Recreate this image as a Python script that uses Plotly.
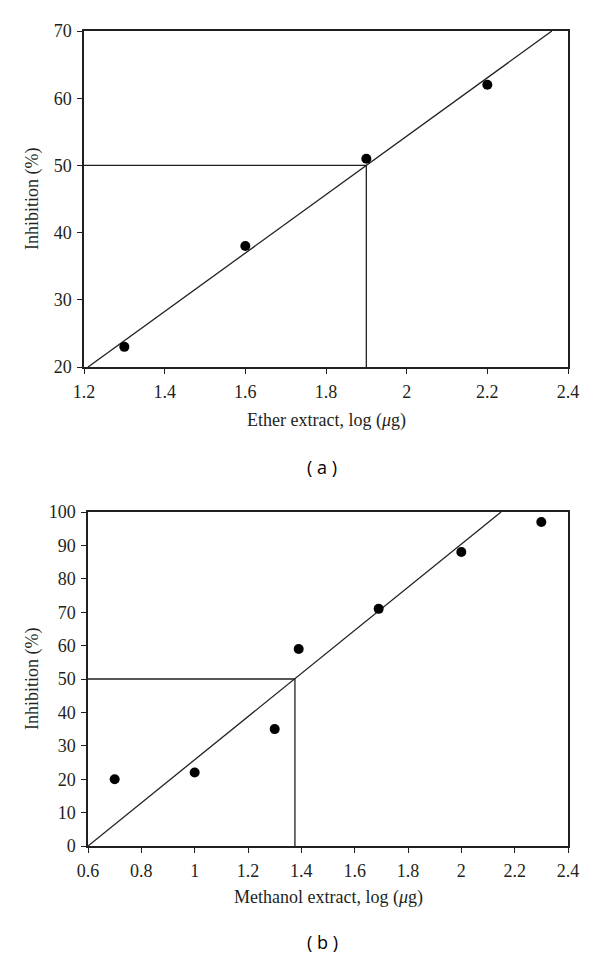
import plotly.graph_objects as go

# ---- Panel (a): ether extract ----
ether_x = [1.3, 1.6, 1.9, 2.2]
ether_y = [23, 38, 51, 62]
ether_fit_x = [1.21, 2.36]
ether_fit_y = [20, 70]
ether_ic50_x = 1.9
ether_ic50_y = 50

# ---- Panel (b): methanol extract ----
meth_x = [0.7, 1.0, 1.3, 1.39, 1.69, 2.0, 2.3]
meth_y = [20, 22, 35, 59, 71, 88, 97]
meth_fit_x = [0.6, 2.149]
meth_fit_y = [0, 100]
meth_ic50_x = 1.376
meth_ic50_y = 50

ether_xticks = [1.2, 1.4, 1.6, 1.8, 2.0, 2.2, 2.4]
ether_xlabels = ["1.2", "1.4", "1.6", "1.8", "2", "2.2", "2.4"]
ether_yticks = [20, 30, 40, 50, 60, 70]
meth_xticks = [0.6, 0.8, 1.0, 1.2, 1.4, 1.6, 1.8, 2.0, 2.2, 2.4]
meth_xlabels = ["0.6", "0.8", "1", "1.2", "1.4", "1.6", "1.8", "2", "2.2", "2.4"]
meth_yticks = [0, 10, 20, 30, 40, 50, 60, 70, 80, 90, 100]

W, H = 600, 958
INK = "#231f20"
SERIF = "Liberation Serif, Times New Roman, serif"
SANS = "Open Sans, Noto Sans, sans-serif"

def py(p):
    return 1 - p / H

def px(p):
    return p / W

fig = go.Figure()

line_style = dict(color=INK, width=1.3)

# Panel a
fig.add_trace(go.Scatter(x=[ether_xticks[0], ether_ic50_x, ether_ic50_x],
                         y=[ether_ic50_y, ether_ic50_y, ether_yticks[0]],
                         mode="lines", line=line_style, xaxis="x", yaxis="y",
                         showlegend=False, hoverinfo="skip"))
fig.add_trace(go.Scatter(x=ether_fit_x, y=ether_fit_y, mode="lines", line=line_style,
                         xaxis="x", yaxis="y", showlegend=False))
fig.add_trace(go.Scatter(x=ether_x, y=ether_y, mode="markers",
                         marker=dict(color="black", size=10), xaxis="x", yaxis="y",
                         showlegend=False))

# Panel b
fig.add_trace(go.Scatter(x=[meth_xticks[0], meth_ic50_x, meth_ic50_x],
                         y=[meth_ic50_y, meth_ic50_y, meth_yticks[0]],
                         mode="lines", line=line_style, xaxis="x2", yaxis="y2",
                         showlegend=False, hoverinfo="skip"))
fig.add_trace(go.Scatter(x=meth_fit_x, y=meth_fit_y, mode="lines", line=line_style,
                         xaxis="x2", yaxis="y2", showlegend=False))
fig.add_trace(go.Scatter(x=meth_x, y=meth_y, mode="markers",
                         marker=dict(color="black", size=10), xaxis="x2", yaxis="y2",
                         showlegend=False))

axis_common = dict(showgrid=False, zeroline=False, showline=True, linecolor=INK,
                   linewidth=1.5, mirror=True, ticks="outside", ticklen=5,
                   tickcolor=INK, tickwidth=1.3, automargin=False,
                   tickfont=dict(family=SERIF, size=18, color=INK))

fig.update_layout(
    width=W, height=H,
    margin=dict(l=0, r=0, t=0, b=0, autoexpand=False),
    paper_bgcolor="white", plot_bgcolor="white",
    xaxis=dict(axis_common, domain=[px(84), px(568)], range=[1.2, 2.4],
               tickvals=ether_xticks, ticktext=ether_xlabels, anchor="y",
               ticklabelstandoff=3),
    yaxis=dict(axis_common, domain=[py(367), py(31)], range=[20, 70],
               tickvals=ether_yticks, anchor="x", ticklabelstandoff=2),
    xaxis2=dict(axis_common, domain=[px(88), px(568)], range=[0.6, 2.4],
                tickvals=meth_xticks, ticktext=meth_xlabels, anchor="y2",
                ticklabelstandoff=3),
    yaxis2=dict(axis_common, domain=[py(846), py(512)], range=[0, 100],
                tickvals=meth_yticks, anchor="x2", ticklabelstandoff=2),
)

def ann(text, x, y, font, angle=0):
    fig.add_annotation(text=text, x=px(x), y=py(y), xref="paper", yref="paper",
                       showarrow=False, xanchor="center", yanchor="middle",
                       textangle=angle, font=font)

tfont = dict(family=SERIF, size=18, color=INK)
ann("Inhibition (%)", 32, 199, tfont, -90)
ann("Inhibition (%)", 32, 679, tfont, -90)
ann("Ether extract, log (<i>μ</i>g)", 326, 420, tfont)
ann("Methanol extract, log (<i>μ</i>g)", 328, 897, tfont)
pfont = dict(family=SANS, size=18, color="black")
ann("( a )", 322, 467, pfont)
ann("( b )", 322, 942, pfont)

fig.write_html("out.html", config={"displayModeBar": False},
               post_script="document.body.style.margin='0';document.body.style.overflow='hidden';")
